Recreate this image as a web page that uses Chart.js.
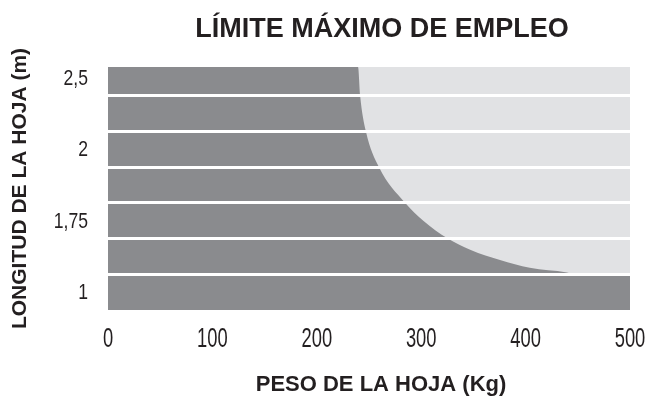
<!DOCTYPE html>
<html>
<head>
<meta charset="utf-8">
<script src="https://cdn.jsdelivr.net/npm/chart.js@4.4.1/dist/chart.umd.min.js"></script>
<style>
  html, body { margin: 0; padding: 0; background: #fff; }
</style>
</head>
<body>
<canvas id="chart1" width="648" height="399"></canvas>
<script>
const chartTitle = "LÍMITE MÁXIMO DE EMPLEO";
const xTitle = "PESO DE LA HOJA (Kg)";
const yTitle = "LONGITUD DE LA HOJA (m)";

// limit curve: weight (kg) against band level (0 = bottom edge, one band per white line)
const limitWeight = [0, 239.5, 241.5, 247, 259.5, 284.5, 302, 325.5, 347.5, 375.5, 404, 439.5, 447, 500];
const limitLevel  = [6.8, 6.8, 6.0, 5.0, 4.0, 3.0, 2.5, 2.0, 1.68, 1.4, 1.18, 1.05, 1.0, 1.0];

const weightTicks = [0, 100, 200, 300, 400, 500];
const lengthTickPos = [0.5, 2.5, 4.5, 6.5];
const lengthTickLabels = ["1", "1,75", "2", "2,5"];
const bandLines = [1, 2, 3, 4, 5, 6];
const levelMax = 6.8;

const dark = "#8a8b8e";
const light = "#e1e2e4";
const ink = "#231f20";
const sans = '"Liberation Sans", Arial, sans-serif';

const points = limitWeight.map((w, i) => ({ x: w, y: limitLevel[i] }));

// condensed text: regular face squeezed horizontally
function narrowText(ctx, text, x, y, size, squeeze, align) {
  ctx.save();
  ctx.font = size + "px " + sans;
  ctx.textAlign = align;
  ctx.textBaseline = "middle";
  ctx.translate(x, y);
  ctx.scale(squeeze, 1);
  ctx.fillText(text, 0, 0);
  ctx.restore();
}

const decor = {
  id: "decor",
  beforeDraw(chart) {
    const { ctx, chartArea: a } = chart;
    ctx.save();
    ctx.fillStyle = light;
    ctx.fillRect(a.left, a.top, a.right - a.left, a.bottom - a.top);
    ctx.restore();
  },
  afterDraw(chart) {
    const { ctx, chartArea: a, scales } = chart;
    const cx = (a.left + a.right) / 2 + 13;
    ctx.save();
    ctx.fillStyle = ink;
    ctx.textAlign = "center";
    ctx.textBaseline = "middle";
    ctx.font = "bold 27px " + sans;
    ctx.fillText(chartTitle, cx, 30);
    ctx.font = "bold 22px " + sans;
    ctx.fillText(xTitle, cx - 1, 385);

    weightTicks.forEach(v => {
      narrowText(ctx, String(v), scales.x.getPixelForValue(v), a.bottom + 30, 27, 0.68, "center");
    });
    lengthTickPos.forEach((v, i) => {
      narrowText(ctx, lengthTickLabels[i], a.left - 20, scales.y.getPixelForValue(v) + 1, 22, 0.8, "right");
    });
    ctx.restore();
  }
};

new Chart(document.getElementById("chart1"), {
  type: "line",
  data: {
    datasets: [{
      data: points,
      fill: "start",
      backgroundColor: dark,
      borderWidth: 0,
      pointRadius: 0,
      cubicInterpolationMode: "monotone"
    }]
  },
  options: {
    responsive: false,
    animation: false,
    layout: { padding: { top: 67, right: 18, left: 0, bottom: 0 } },
    plugins: { legend: { display: false }, tooltip: { enabled: false }, title: { display: false } },
    scales: {
      x: {
        type: "linear",
        min: 0,
        max: 500,
        afterBuildTicks: s => { s.ticks = weightTicks.map(v => ({ value: v })); },
        afterFit: s => { s.height = 89; },
        grid: { display: false, drawTicks: false },
        border: { display: false },
        ticks: { display: false }
      },
      y: {
        type: "linear",
        min: 0,
        max: levelMax,
        afterBuildTicks: s => { s.ticks = bandLines.map(v => ({ value: v })); },
        afterFit: s => { s.width = 108; },
        grid: { drawTicks: false, lineWidth: 3, color: "#ffffff", z: 1 },
        border: { display: false },
        ticks: { display: false, autoSkip: false },
        title: {
          display: true,
          text: yTitle,
          color: ink,
          padding: { top: 8, bottom: 0 },
          font: { family: sans, size: 21, weight: "bold" }
        }
      }
    }
  },
  plugins: [decor]
});
</script>
</body>
</html>
